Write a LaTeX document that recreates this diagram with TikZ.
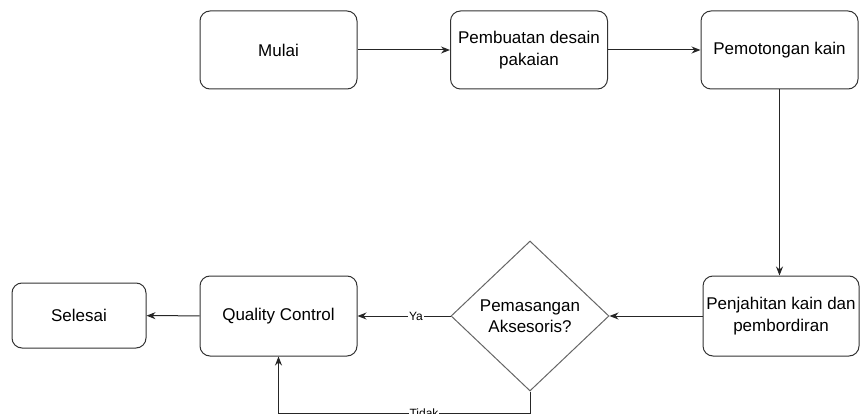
\documentclass[tikz,border=0pt]{standalone}
\usepackage{fontspec}
\setmainfont{Liberation Sans}
\usetikzlibrary{shapes.geometric,arrows.meta}
\begin{document}
\begin{tikzpicture}[x=1pt,y=-1pt,
  box/.style={draw=black!80, rounded corners=10pt, line width=1pt, minimum width=157pt, minimum height=78pt, align=center, inner sep=0pt, font=\fontsize{17}{21.5}\selectfont},
  decision/.style={draw=black!60, diamond, line width=1pt, minimum width=158pt, minimum height=150pt, align=center, inner sep=0pt, font=\fontsize{17}{21.5}\selectfont},
  arr/.style={draw=black!85, line width=1pt, -{Stealth[length=9pt,width=7pt]}},
  lbl/.style={fill=white, inner sep=1pt, font=\fontsize{12}{14}\selectfont}]
\useasboundingbox (0,0) rectangle (861,414);
\node[box] (mulai) at (278.5,50) {Mulai};
\node[box] (desain) at (529,50) {Pembuatan desain\\pakaian};
\node[box] (potong) at (779.5,50) {Pemotongan kain};
\node[box, minimum width=156pt, minimum height=80pt] (jahit) at (781,316) {Penjahitan kain dan\\pembordiran};
\node[decision] (dia) at (530,316) {Pemasangan\\Aksesoris?};
\node[box, minimum height=80pt] (qc) at (278.5,316) {Quality Control};
\node[box, minimum width=134pt, minimum height=65pt] (selesai) at (79,315.5) {Selesai};
\coordinate (tb) at (0,413);
\draw[arr] (mulai) -- (desain);
\draw[arr] (desain) -- (potong);
\draw[arr] (potong.south) -- (potong.south |- jahit.north);
\draw[arr] (jahit) -- (dia);
\draw[arr] (dia) -- (qc);
\draw[arr] (qc) -- (selesai);
\draw[arr] (dia.south) -- (dia.south |- tb) -| (qc.south);
\node[lbl] (ya) at (416,316) {Ya};
\node[lbl] (tidak) at (424,413) {Tidak};
\end{tikzpicture}
\end{document}
